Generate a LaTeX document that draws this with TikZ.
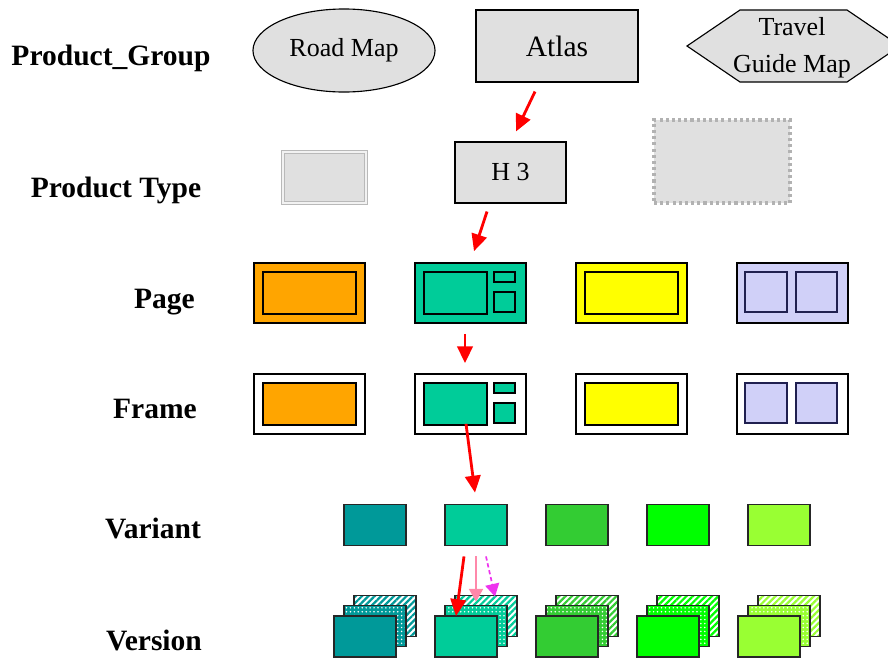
\documentclass[tikz,border=0pt]{standalone}
\usepackage{fontspec}
\setmainfont{Liberation Serif}
\usepackage{xcolor}
\usepackage{tikz}
\usetikzlibrary{shapes.geometric, arrows.meta, patterns.meta}

\definecolor{boxgray}{HTML}{E0E0E0}
\definecolor{corange}{HTML}{FFA500}
\definecolor{cteal}{HTML}{00CC99}
\definecolor{cyellow}{HTML}{FFFF00}
\definecolor{clav}{HTML}{D0D0F8}
\definecolor{cnavy}{HTML}{202050}
\definecolor{cv1}{HTML}{009999}
\definecolor{cv2}{HTML}{00CC99}
\definecolor{cv3}{HTML}{33CC33}
\definecolor{cv4}{HTML}{00FF00}
\definecolor{cv5}{HTML}{99FF33}
\definecolor{cpink}{HTML}{FF88AA}
\definecolor{cmagenta}{HTML}{EE33EE}

\begin{document}
\begin{tikzpicture}[
	x=0.025cm, y=-0.025cm,
	lbl/.style={font=\fontsize{21}{25}\selectfont\bfseries, anchor=base},
	txt/.style={font=\fontsize{18.5}{26}\selectfont, align=center},
	graybox/.style={draw=black, fill=boxgray, line width=0.8pt, inner sep=0pt},
	outbox/.style={rectangle, draw=black, line width=1.2pt, minimum width=2.775cm, minimum height=1.5cm, inner sep=0pt},
	inbox/.style={draw=black, line width=1.2pt},
	varbox/.style={rectangle, draw=black!85, line width=1.3pt, minimum width=1.55cm, minimum height=1.025cm, inner sep=0pt},
	redarrow/.style={draw=red, line width=2pt, -{Triangle[length=12pt,width=11pt]}},
]
\clip (0,0) rectangle (888,659);
\fill[white] (0,0) rectangle (888,659);

% row labels
\node[lbl] (lgroup) at (111,65) {Product\_Group};
\node[lbl] (ltype) at (116,197) {Product Type};
\node[lbl] (lpage) at (164.5,308) {Page};
\node[lbl] (lframe) at (155,418) {Frame};
\node[lbl] (lvariant) at (153,538) {Variant};
\node[lbl] (lversion) at (154,650) {Version};

% product groups
\node[ellipse, graybox, minimum width=4.55cm, minimum height=2.075cm, txt] (roadmap) at (344,50.5) {Road Map};
\node[rectangle, graybox, minimum width=4.05cm, minimum height=1.8cm, txt, font=\fontsize{21}{25}\selectfont] (atlas) at (557,46) {Atlas};
\draw[graybox] (687,46) -- (740,10) -- (847,10) -- (900,46) -- (847,82) -- (740,82) -- cycle;
\node[txt] (travel) at (792,48) {Travel\\Guide Map};

% product types
\node[rectangle, draw=gray!55, double=gray!10, double distance=1.2pt, line width=1pt, fill=boxgray, minimum width=2.075cm, minimum height=1.275cm] (typea) at (324.5,177.5) {};
\node[rectangle, graybox, minimum width=2.775cm, minimum height=1.525cm, txt] (h3) at (510.5,172.5) {H 3};
\node[rectangle, fill=boxgray, draw=gray!60, line width=2.2pt, dash pattern=on 2.2pt off 2.2pt, minimum width=3.4cm, minimum height=2.075cm] (typec) at (722,161.5) {};

% pages and frames
\foreach \row/\pct/\cy in {page/100/293, frame/0/404} {
	\node[outbox, fill=corange!\pct!white] (\row-1) at (309.5,\cy) {};
	\node[outbox, fill=cteal!\pct!white] (\row-2) at (470.5,\cy) {};
	\node[outbox, fill=cyellow!\pct!white] (\row-3) at (631.5,\cy) {};
	\node[outbox, fill=clav!\pct!white] (\row-4) at (792.5,\cy) {};
	\draw[inbox, fill=corange] ([shift={(10,10)}]\row-1.north west) rectangle ([shift={(-10,-10)}]\row-1.south east);
	\draw[inbox, fill=cteal] ([shift={(10,10)}]\row-2.north west) rectangle ([shift={(-40,-10)}]\row-2.south east);
	\draw[inbox, fill=cteal] ([shift={(80,10)}]\row-2.north west) rectangle ([shift={(101,20)}]\row-2.north west);
	\draw[inbox, fill=cteal] ([shift={(80,30)}]\row-2.north west) rectangle ([shift={(101,50)}]\row-2.north west);
	\draw[inbox, fill=cyellow] ([shift={(10,10)}]\row-3.north west) rectangle ([shift={(-10,-10)}]\row-3.south east);
	\draw[inbox, draw=cnavy, fill=clav] ([shift={(9,10)}]\row-4.north west) rectangle ([shift={(51,50)}]\row-4.north west);
	\draw[inbox, draw=cnavy, fill=clav] ([shift={(60,10)}]\row-4.north west) rectangle ([shift={(101,50)}]\row-4.north west);
}

% variants and versions
\foreach \i/\col in {1/cv1, 2/cv2, 3/cv3, 4/cv4, 5/cv5} {
	\pgfmathsetmacro{\vx}{274+101*\i}
	\node[varbox, fill=\col] (var-\i) at (\vx,525) {};
	\node[varbox, preaction={fill=white}, pattern={Lines[angle=45,distance=3.2pt,line width=1.6pt]}, pattern color=\col] (ver-\i-b) at (\vx+10,616) {};
	\node[varbox, preaction={fill=\col}, pattern={Dots[radius=0.6pt,distance=2.8pt]}, pattern color=white] (ver-\i-m) at (\vx,626) {};
	\node[varbox, fill=\col] (ver-\i-f) at (\vx-10,636.5) {};
}

% arrows
\draw[redarrow] ([shift={(-22,9)}]atlas.south) -- ([shift={(5.5,-10)}]h3.north);
\draw[redarrow] ([shift={(-23.5,8)}]h3.south) -- ([shift={(3.5,-11)}]page-2.north);
\draw[redarrow] ([shift={(-5.5,10)}]page-2.south) -- ([shift={(-5.5,-10)}]frame-2.north);
\draw[redarrow] ([shift={(-4.5,-11)}]frame-2.south) -- ([shift={(-1,-11)}]var-2.north);
\draw[cpink, line width=1pt, -{Triangle[length=9pt,width=10pt]}] ([shift={(0,10)}]var-2.south) -- ([shift={(0,-3)}]ver-2-m.north);
\draw[cmagenta, line width=1.2pt, dash pattern=on 3pt off 2pt, -{Triangle[length=9pt,width=10pt]}] ([shift={(10,10)}]var-2.south) -- ([shift={(9,2)}]ver-2-b.north);
\draw[redarrow] ([shift={(-12,10)}]var-2.south) -- ([shift={(-10,1)}]ver-2-f.north);
\end{tikzpicture}
\end{document}
